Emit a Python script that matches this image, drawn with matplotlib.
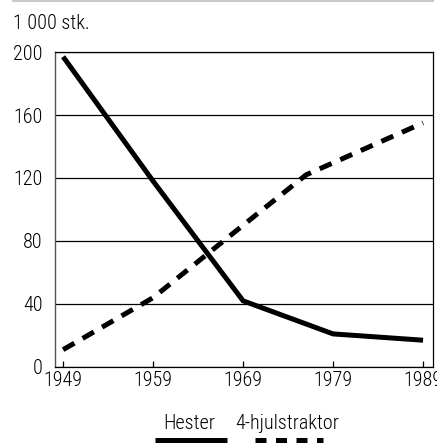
import matplotlib
matplotlib.use('Agg')
import matplotlib.pyplot as plt
from matplotlib.lines import Line2D

plt.rcParams['font.family'] = ['Roboto Condensed', 'DejaVu Sans']
plt.rcParams['font.weight'] = 'light'

# data (1 000 stk.)
horse_years = [1949, 1959, 1969, 1979, 1989]
horses = [197, 118, 42, 21, 17]
tractor_years = [1949, 1959, 1969, 1976, 1989]
tractors = [11, 44, 90, 122, 155]
xticks = [1949, 1959, 1969, 1979, 1989]
yticks = [0, 40, 80, 120, 160, 200]

fig = plt.figure(figsize=(4.37, 4.43), dpi=100)
ax = fig.add_axes([0.1259, 0.1716, 0.8649, 0.711])

ax.plot(horse_years, horses, color='black', lw=3.6, solid_capstyle='butt', solid_joinstyle='miter', zorder=3)
ax.plot(tractor_years, tractors, color='black', lw=3.6, dashes=(2.6, 1.9), dash_capstyle='butt', zorder=3)

ax.set_xlim(1948.1, 1990.1)
ax.set_ylim(0, 200)
ax.set_xticks(xticks)
ax.set_yticks(yticks)
ax.yaxis.grid(True, color='black', lw=0.9)
ax.set_axisbelow(True)

ax.tick_params(axis='y', length=0, pad=9, labelsize=14.5)
ax.tick_params(axis='x', direction='in', length=4, width=0.9, pad=3, labelsize=14.5)
for s in ['bottom', 'right', 'top']:
    ax.spines[s].set_linewidth(0.9)
ax.spines['left'].set_color('#555555')
ax.spines['left'].set_linewidth(1.0)

fig.text(0.03, 0.948, '1 000 stk.', fontsize=14.5, ha='left', va='center')

# legend: labels with line keys underneath
fig.text(0.432, 0.043, 'Hester', fontsize=14.5, ha='center', va='center')
fig.text(0.658, 0.043, '4-hjulstraktor', fontsize=14.5, ha='center', va='center')
fig.add_artist(Line2D([0.355, 0.519], [0.007, 0.007], color='black', lw=3.6, solid_capstyle='butt'))
fig.add_artist(Line2D([0.584, 0.739], [0.007, 0.007], color='black', lw=3.6, dashes=(2.2, 1.9)))

# faint line at the top of the scan
fig.add_artist(Line2D([0.03, 0.99], [0.997, 0.997], color='#c8c8c8', lw=1.5))

fig.savefig('out.png', dpi=100)
